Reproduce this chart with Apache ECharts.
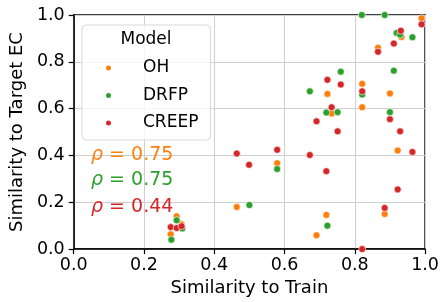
<!DOCTYPE html>
<html>
<head>
<meta charset="utf-8">
<script src="https://cdn.jsdelivr.net/npm/echarts@6/dist/echarts.min.js"></script>
<style>
html,body{margin:0;padding:0;background:#fff;}
#c{width:442px;height:302px;}
</style>
</head>
<body>
<div id="c"></div>
<script>
var seriesNames = ['OH', 'DRFP', 'CREEP'];
var seriesColors = ['#ff7f0e', '#2ca02c', '#d62728'];
var rhoLabels = ['0.75', '0.75', '0.44'];
var xTicks = [0, 0.2, 0.4, 0.6, 0.8, 1.0];
var yTicks = [0, 0.2, 0.4, 0.6, 0.8, 1.0];

var ohData = [
  [0.276,0.063],[0.293,0.140],[0.307,0.106],[0.464,0.180],[0.579,0.367],
  [0.691,0.059],[0.719,0.146],[0.722,0.663],[0.734,0.579],[0.821,0.706],
  [0.821,0.606],[0.866,0.860],[0.885,0.150],[0.900,0.665],[0.922,0.421],
  [0.933,0.906],[0.990,0.986]
];
var drfpData = [
  [0.278,0.040],[0.293,0.123],[0.309,0.088],[0.500,0.188],[0.579,0.342],
  [0.672,0.674],[0.719,0.583],[0.722,0.100],[0.751,0.585],[0.760,0.758],
  [0.820,1.000],[0.821,0.660],[0.885,1.000],[0.900,0.585],[0.911,0.762],
  [0.919,0.923],[0.929,0.916],[0.964,0.905]
];
var creepData = [
  [0.276,0.094],[0.293,0.090],[0.307,0.098],[0.464,0.408],[0.499,0.360],
  [0.579,0.424],[0.672,0.402],[0.691,0.546],[0.719,0.333],[0.722,0.723],
  [0.734,0.606],[0.751,0.503],[0.760,0.703],[0.821,0.674],[0.821,0.000],
  [0.866,0.843],[0.885,0.176],[0.900,0.555],[0.911,0.878],[0.922,0.255],
  [0.929,0.503],[0.931,0.933],[0.964,0.415],[0.990,0.960]
];
var allData = [ohData, drfpData, creepData];

var FONT = 'DejaVu Sans';
var chart = echarts.init(document.getElementById('c'));

var rhoY = [155, 180, 207];
var graphics = [{
  type: 'text', left: 146, top: 40, z: 100,
  style: {text: 'Model', fontSize: 17, fontFamily: FONT, fill: '#000',
          textAlign: 'center', textVerticalAlign: 'middle'},
  x: 146, y: 40
}];
graphics = [{
  type: 'text', z: 100, x: 146, y: 40,
  style: {text: 'Model', fontSize: 17, fontFamily: FONT, fill: '#000',
          align: 'center', verticalAlign: 'middle'}
}];
for (var i = 0; i < 3; i++) {
  graphics.push({
    type: 'text', z: 100, x: 91, y: rhoY[i],
    style: {
      text: '{r|ρ} = ' + rhoLabels[i],
      fontSize: 19, fontFamily: FONT, fill: seriesColors[i],
      align: 'left', verticalAlign: 'middle',
      rich: {r: {fontStyle: 'italic', fontSize: 19, fontFamily: FONT, fill: seriesColors[i]}}
    }
  });
}

var axisCommon = {
  type: 'value', min: 0, max: 1, interval: 0.2,
  axisLine: {show: true, lineStyle: {color: '#000', width: 1.5}},
  axisTick: {show: true, length: 5, lineStyle: {color: '#000', width: 1.2}},
  splitLine: {show: true, lineStyle: {color: '#cfcfcf', width: 1}},
  axisLabel: {fontSize: 17.5, fontFamily: FONT, color: '#000',
              formatter: function (v) { return v.toFixed(1); },
              showMinLabel: true, showMaxLabel: true},
  nameLocation: 'middle',
  nameTextStyle: {fontSize: 18, fontFamily: FONT, color: '#000'}
};

var option = {
  animation: false,
  backgroundColor: '#fff',
  grid: {left: 72, right: 15, top: 15, bottom: 49, show: true,
         borderColor: '#000', borderWidth: 1.5, backgroundColor: 'transparent'},
  xAxis: Object.assign({}, axisCommon, {
    name: 'Similarity to Train', nameGap: 28,
    axisLabel: Object.assign({}, axisCommon.axisLabel, {margin: 7})
  }),
  yAxis: Object.assign({}, axisCommon, {
    name: 'Similarity to Target EC', nameGap: 44,
    axisLabel: Object.assign({}, axisCommon.axisLabel, {margin: 9})
  }),
  legend: {
    orient: 'vertical', left: 82, top: 25,
    padding: [33, 12, 7, 22], itemWidth: 7, itemHeight: 7, itemGap: 7.5,
    icon: 'circle',
    borderColor: '#d9d9d9', borderWidth: 1, borderRadius: 4,
    backgroundColor: 'rgba(255,255,255,0.8)',
    textStyle: {fontSize: 17, fontFamily: FONT, color: '#000',
                padding: [0, 0, 0, 26], lineHeight: 20},
    data: seriesNames
  },
  graphic: graphics,
  series: seriesNames.map(function (n, i) {
    return {
      name: n, type: 'scatter', data: allData[i], symbolSize: 7,
      itemStyle: {color: seriesColors[i], borderColor: '#fff', borderWidth: 0.6, opacity: 1},
      clip: false
    };
  })
};
chart.setOption(option);
</script>
</body>
</html>
